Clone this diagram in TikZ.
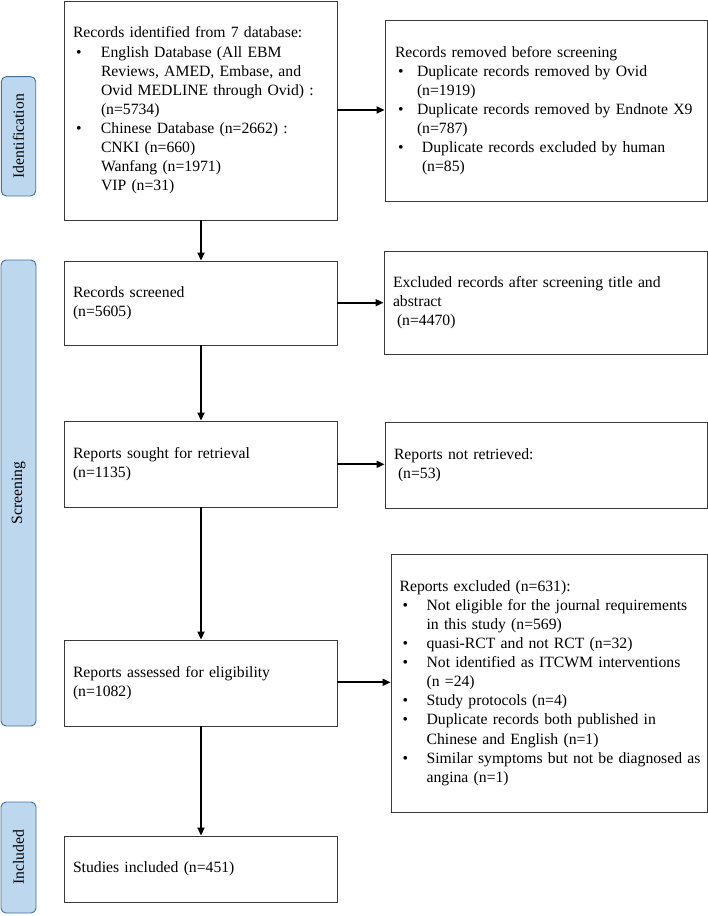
\documentclass[tikz,border=0pt]{standalone}
\usepackage{fontspec}
\setmainfont{Liberation Serif}
\usetikzlibrary{arrows.meta}
\definecolor{phasefill}{HTML}{BDD7EE}
\definecolor{phaseline}{HTML}{41719C}
\definecolor{boxline}{HTML}{3A3A3A}
% bullet at the start of a line, and indent for a continuation line
\newcommand{\bl}[1][28pt]{\makebox[#1][l]{\hspace{3pt}\textbullet}}
\newcommand{\ind}[1][28pt]{\makebox[#1][l]{}}
\tikzset{
  flowbox/.style={draw=boxline, line width=0.9pt, rectangle, inner xsep=9pt, inner ysep=0pt,
    align=left, anchor=center, font=\fontsize{15.7}{19.1}\selectfont},
  phase/.style={draw=phaseline, fill=phasefill, line width=0.9pt, rounded corners=5pt,
    rotate=90, anchor=center, inner sep=0pt, font=\fontsize{15.7}{19}\selectfont},
  flowarrow/.style={line width=1.7pt, -{Triangle[length=8pt,width=7pt]}}
}
\begin{document}
\begin{tikzpicture}[x=1pt,y=-1pt]
\useasboundingbox (0,0) rectangle (708,916);
% phase labels
\node[phase, minimum width=119.3pt, minimum height=34.4pt] (pid) at (18.5,136.3) {Identification};
\node[phase, minimum width=466pt, minimum height=35pt] (pscr) at (18.5,493) {Screening};
\node[phase, minimum width=111pt, minimum height=35pt] (pinc) at (18.5,857.5) {Included};
% left column
\node[flowbox, text width=255pt, minimum height=219pt] (ident) at (200.5,110.5) {%
\begin{tabular}{@{}p{28pt}@{}l@{}}
\multicolumn{2}{@{}l@{}}{Records identified from 7 database:}\\
\hspace*{3pt}\textbullet & English Database (All EBM\\
 & Reviews, AMED, Embase, and\\
 & Ovid MEDLINE through Ovid) :\\
 & (n=5734)\\
\hspace*{3pt}\textbullet & Chinese Database (n=2662) :\\
 & CNKI (n=660)\\
 & Wanfang (n=1971)\\
 & VIP (n=31)
\end{tabular}};
\node[flowbox, text width=255pt, minimum height=84pt] (screen) at (200.5,303) {Records screened\\(n=5605)};
\node[flowbox, text width=255pt, minimum height=86pt] (sought) at (200.5,464) {Reports sought for retrieval\\(n=1135)};
\node[flowbox, text width=255pt, minimum height=86pt] (assess) at (200.5,683) {Reports assessed for eligibility\\(n=1082)};
\node[flowbox, text width=255pt, minimum height=66pt] (incl) at (200.5,869) {Studies included (n=451)};
% right column
\node[flowbox, inner xsep=10pt, text width=302pt, minimum height=181pt] (removed) at (546,110.5) {%
Records removed before screening\\
\bl[22pt]Duplicate records removed by Ovid\\
\ind[22pt](n=1919)\\
\bl[22pt]\mbox{Duplicate records removed by Endnote X9}\\
\ind[22pt](n=787)\\
\bl[22pt]\hspace*{5pt}Duplicate records excluded by human\\
\ind[27pt](n=85)};
\node[flowbox, text width=305pt, minimum height=103pt] (excl) at (545.5,302.5) {\mbox{Excluded records after screening title and}\\abstract\\\hspace*{4pt}(n=4470)};
\node[flowbox, text width=304pt, minimum height=86pt] (notret) at (546,465) {Reports not retrieved:\\\hspace*{4pt}(n=53)};
\node[flowbox, inner xsep=8.6pt, text width=298.8pt, minimum height=258pt] (repex) at (549,683) {%
Reports excluded (n=631):\\
\bl[27pt]\mbox{Not eligible for the journal requirements}\\
\ind[27pt]in this study (n=569)\\
\bl[27pt]quasi-RCT and not RCT (n=32)\\
\bl[27pt]\mbox{Not identified as ITCWM interventions}\\
\ind[27pt](n =24)\\
\bl[27pt]Study protocols (n=4)\\
\bl[27pt]Duplicate records both published in\\
\ind[27pt]Chinese and English (n=1)\\
\bl[27pt]\mbox{Similar symptoms but not be diagnosed as}\\
\ind[27pt]angina (n=1)};
% vertical arrows
\draw[flowarrow] ([xshift=0.5pt]ident.south) -- ([xshift=0.5pt]screen.north);
\draw[flowarrow] ([xshift=0.5pt]screen.south) -- ([xshift=0.5pt]sought.north);
\draw[flowarrow] ([xshift=0.5pt]sought.south) -- ([xshift=0.5pt]assess.north);
\draw[flowarrow] ([xshift=0.5pt]assess.south) -- ([xshift=0.5pt]incl.north);
% horizontal arrows
\draw[flowarrow] (ident.east |- 0,110) -- (removed.west |- 0,110);
\draw[flowarrow] (screen.east |- 0,302.7) -- (excl.west |- 0,302.7);
\draw[flowarrow] (sought.east |- 0,464.3) -- (notret.west |- 0,464.3);
\draw[flowarrow] (assess.east |- 0,682.3) -- (repex.west |- 0,682.3);
\end{tikzpicture}
\end{document}
